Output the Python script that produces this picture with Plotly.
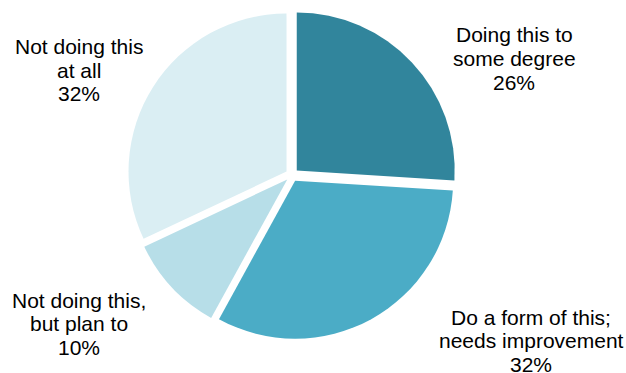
import plotly.graph_objects as go

# Survey response shares (percent)
categories = [
    "Doing this to some degree",
    "Do a form of this; needs improvement",
    "Not doing this, but plan to",
    "Not doing this at all",
]
label_lines = [
    ["Doing this to", "some degree"],
    ["Do a form of this;", "needs improvement"],
    ["Not doing this,", "but plan to"],
    ["Not doing this", "at all"],
]
shares = [26, 32, 10, 32]
colors = ["#31859C", "#4BACC6", "#B7DEE8", "#DAEEF3"]

W, H = 626, 373
FONT_SIZE = 21
LINE_GAP = 23.5

# Label block placement in pixels: (center x, middle of first line)
label_pos = [(514, 35), (531, 317), (79, 300), (79, 47)]

fig = go.Figure(
    go.Pie(
        labels=categories,
        values=shares,
        sort=False,
        direction="clockwise",
        rotation=0,
        marker=dict(colors=colors, line=dict(color="white", width=0)),
        pull=[0.041] * len(shares),
        textinfo="none",
        hoverinfo="label+percent",
        showlegend=False,
        domain=dict(x=[0.2037, 0.7292], y=[0.0898, 0.9718]),
    )
)

for lines, val, (px, py) in zip(label_lines, shares, label_pos):
    for i, line in enumerate(lines + [f"{val}%"]):
        fig.add_annotation(
            text=line,
            x=px / W,
            y=1 - (py + i * LINE_GAP) / H,
            xref="paper",
            yref="paper",
            xanchor="center",
            yanchor="middle",
            showarrow=False,
            font=dict(family="Liberation Sans, Arial, sans-serif",
                      size=FONT_SIZE, color="#000000"),
        )

fig.update_layout(
    width=W,
    height=H,
    margin=dict(l=0, r=0, t=0, b=0),
    paper_bgcolor="white",
    plot_bgcolor="white",
)

fig.write_html("out.html")
